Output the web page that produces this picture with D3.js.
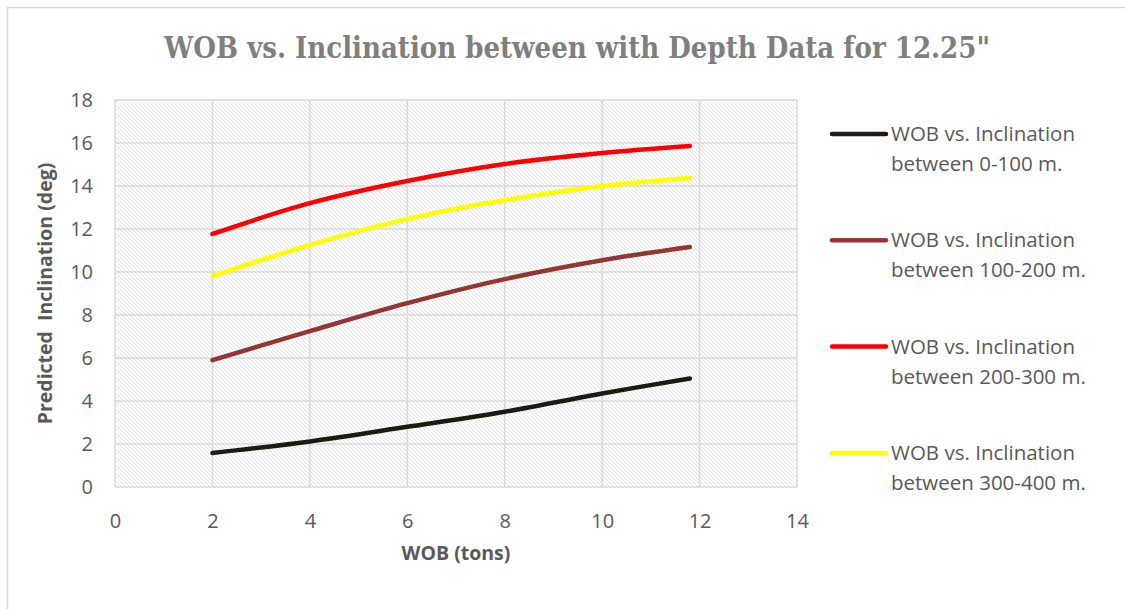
<!DOCTYPE html>
<html>
<head>
<meta charset="utf-8">
<script src="https://cdn.jsdelivr.net/npm/d3@7"></script>
<style>
  body { margin: 0; background: #fff; }
  svg { display: block; }
</style>
</head>
<body>
<script>
// values
const wob = [2, 4, 6, 8, 10, 11.8];
const incl0to100 = [1.58, 2.12, 2.8, 3.5, 4.35, 5.05];
const incl100to200 = [5.9, 7.25, 8.55, 9.67, 10.55, 11.16];
const incl200to300 = [11.77, 13.2, 14.23, 15.02, 15.53, 15.86];
const incl300to400 = [9.81, 11.26, 12.47, 13.35, 14.0, 14.37];
const seriesNames = [
  ['WOB vs. Inclination', 'between 0-100 m.'],
  ['WOB vs. Inclination', 'between 100-200 m.'],
  ['WOB vs. Inclination', 'between 200-300 m.'],
  ['WOB vs. Inclination', 'between 300-400 m.']
];
const seriesColors = ['#1d1b10', '#943634', '#ff0000', '#ffff00'];
const xTicks = [0, 2, 4, 6, 8, 10, 12, 14];
const yTicks = [0, 2, 4, 6, 8, 10, 12, 14, 16, 18];

const W = 1125, H = 609;
const margin = { top: 100, right: 328, bottom: 122, left: 115 };
const width = W - margin.left - margin.right;
const height = H - margin.top - margin.bottom;
const textFont = 'Open Sans, sans-serif';

const svg = d3.select('body').append('svg')
  .attr('width', W)
  .attr('height', H);

// outer chart border (right / bottom edges sit off the picture)
svg.append('rect')
  .attr('x', 7.5).attr('y', 7.5)
  .attr('width', W + 10).attr('height', H + 10)
  .attr('fill', '#fff')
  .attr('stroke', '#d9d9d9')
  .attr('stroke-width', 1.5);

// diagonal hatch fill for the plot area
const pat = svg.append('defs').append('pattern')
  .attr('id', 'hatch')
  .attr('width', 4).attr('height', 4)
  .attr('patternUnits', 'userSpaceOnUse');
pat.append('rect').attr('width', 4).attr('height', 4).attr('fill', '#fff');
[0, 1, 2, 3].forEach(i => {
  pat.append('rect')
    .attr('x', i).attr('y', i)
    .attr('width', 1).attr('height', 1)
    .attr('fill', '#e2e2e2');
});

const x = d3.scaleLinear().domain([0, 14]).range([0, width]);
const y = d3.scaleLinear().domain([0, 18]).range([height, 0]);

const g = svg.append('g')
  .attr('transform', `translate(${margin.left},${margin.top})`);

g.append('rect')
  .attr('width', width).attr('height', height)
  .attr('fill', 'url(#hatch)');

// gridlines
g.append('g')
  .selectAll('line')
  .data(yTicks)
  .join('line')
    .attr('x1', 0).attr('x2', width)
    .attr('y1', d => y(d)).attr('y2', d => y(d))
    .attr('stroke', '#d9d9d9').attr('stroke-width', 1.5);

g.append('g')
  .selectAll('line')
  .data(xTicks)
  .join('line')
    .attr('y1', 0).attr('y2', height)
    .attr('x1', d => x(d)).attr('x2', d => x(d))
    .attr('stroke', '#d9d9d9').attr('stroke-width', 1.5);

// axes (labels only, Excel style)
const xAxis = d3.axisBottom(x).tickValues(xTicks).tickSize(0).tickPadding(27);
g.append('g')
  .attr('transform', `translate(0,${height})`)
  .call(xAxis)
  .call(s => s.select('.domain').remove())
  .selectAll('text')
    .attr('font-family', textFont)
    .attr('font-size', 20)
    .attr('fill', '#595959');

const yAxis = d3.axisLeft(y).tickValues(yTicks).tickSize(0).tickPadding(22);
g.append('g')
  .call(yAxis)
  .call(s => s.select('.domain').remove())
  .selectAll('text')
    .attr('font-family', textFont)
    .attr('font-size', 20)
    .attr('fill', '#595959');

// series lines
const allSeries = [incl0to100, incl100to200, incl200to300, incl300to400];
const line = d3.line()
  .x((d, i) => x(wob[i]))
  .y(d => y(d))
  .curve(d3.curveCatmullRom.alpha(0.5));

g.append('g')
  .selectAll('path')
  .data(allSeries)
  .join('path')
    .attr('d', line)
    .attr('fill', 'none')
    .attr('stroke', (d, i) => seriesColors[i])
    .attr('stroke-width', 4.5)
    .attr('stroke-linecap', 'round')
    .attr('stroke-linejoin', 'round');

// title
svg.append('text')
  .attr('x', 577).attr('y', 58)
  .attr('text-anchor', 'middle')
  .attr('font-family', 'DejaVu Serif Condensed, Liberation Serif, serif')
  .attr('font-weight', 'bold')
  .attr('font-size', 29)
  .attr('fill', '#7f7f7f')
  .attr('textLength', 826)
  .attr('lengthAdjust', 'spacingAndGlyphs')
  .text('WOB vs. Inclination between with Depth Data for 12.25"');

// axis titles
svg.append('text')
  .attr('x', margin.left + x(7)).attr('y', 560)
  .attr('text-anchor', 'middle')
  .attr('font-family', textFont)
  .attr('font-weight', 'bold')
  .attr('font-size', 19.5)
  .attr('fill', '#595959')
  .text('WOB (tons)');

svg.append('text')
  .attr('transform', `translate(52,${margin.top + height / 2}) rotate(-90)`)
  .attr('text-anchor', 'middle')
  .attr('font-family', textFont)
  .attr('font-weight', 'bold')
  .attr('font-size', 19.5)
  .attr('fill', '#595959')
  .attr('xml:space', 'preserve')
  .text('Predicted  Inclination (deg)');

// legend
const legend = svg.append('g')
  .selectAll('g')
  .data(seriesNames)
  .join('g')
    .attr('transform', (d, i) => `translate(832,${134 + i * 106.3})`);

legend.append('line')
  .attr('x1', 0).attr('x2', 54)
  .attr('stroke', (d, i) => seriesColors[i])
  .attr('stroke-width', 4.5)
  .attr('stroke-linecap', 'round');

legend.append('text')
  .attr('x', 59)
  .attr('font-family', textFont)
  .attr('font-size', 20.5)
  .attr('fill', '#595959')
  .selectAll('tspan')
  .data(d => d)
  .join('tspan')
    .attr('x', 59)
    .attr('y', (d, i) => 7 + i * 30)
    .text(d => d);
</script>
</body>
</html>
